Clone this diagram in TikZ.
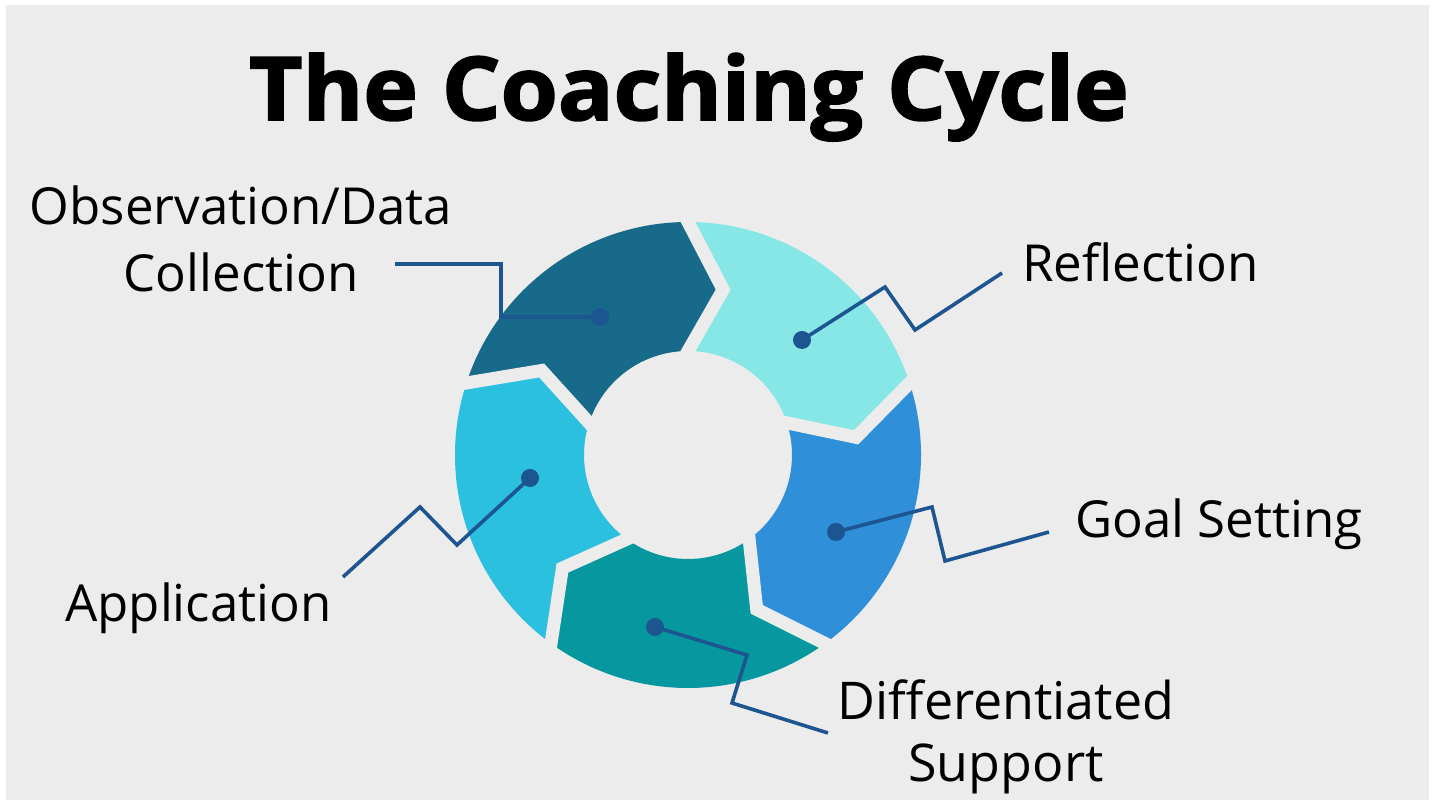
\documentclass[tikz,border=0pt]{standalone}
\usepackage{fontspec}
\usepackage{graphicx}
\setmainfont{Open Sans}
\usetikzlibrary{calc}
\definecolor{bg}{HTML}{ECECEC}
\definecolor{segObs}{HTML}{176A8A}
\definecolor{segRef}{HTML}{87E7E7}
\definecolor{segGoal}{HTML}{2F8FD8}
\definecolor{segDiff}{HTML}{06989E}
\definecolor{segApp}{HTML}{2BC0E0}
\definecolor{leadc}{HTML}{1D5591}
\tikzset{
  lead/.style={draw=leadc, line width=3.6pt, line join=miter},
  dot/.style={circle, fill=leadc, inner sep=0pt, minimum size=18pt},
  lbl/.style={font=\fontsize{51}{64}\selectfont, text=black, inner sep=0pt},
  gapline/.style={draw=bg, line width=13pt, line join=miter}
}
\begin{document}
\begin{tikzpicture}[x=1pt,y=1pt]
\useasboundingbox (0,0) rectangle (1435,805);
\fill[white] (0,0) rectangle (1435,805);
\fill[bg] (6,5) rectangle (1429,800);
% ring
\begin{scope}[shift={(688,350)}]
  \def\RO{233}\def\RI{104}\def\RM{169}\def\DT{12}
  \foreach \a/\c in {162/segObs, 90/segRef, 18/segGoal, -54/segDiff, -126/segApp}{
    \pgfmathsetmacro\b{\a-72}
    \fill[\c] (\a:\RO) arc[start angle=\a, end angle=\b, radius=\RO]
      -- (\b-\DT:\RM) -- (\b:\RI)
      arc[start angle=\b, end angle=\a, radius=\RI]
      -- (\a-\DT:\RM) -- cycle;
  }
  \foreach \a in {162,90,18,-54,-126}{
    \draw[gapline] ($(\a-\DT:\RM)!1.25!(\a:\RO)$) -- (\a-\DT:\RM) -- ($(\a-\DT:\RM)!1.25!(\a:\RI)$);
  }
\end{scope}
% title
\node[font=\fontsize{88}{100}\selectfont\bfseries\addfontfeatures{FakeBold=2}, anchor=base, inner sep=0pt] (title) at (689,685) {\scalebox{1.05}[1]{The Coaching Cycle}};
% labels
\node[lbl, font=\fontsize{51}{67}\selectfont, align=center, anchor=base] (tObs) at (241,513) {Observation/Data\\Collection};
\node[lbl, anchor=base west] (tRef) at (1022,523) {Reflection};
\node[lbl, anchor=base west] (tGoal) at (1075,267) {Goal Setting};
\node[lbl, align=center, font=\fontsize{52}{62}\selectfont, anchor=base] (tDiff) at (1006,23) {Differentiated\\Support};
\node[lbl, anchor=base west] (tApp) at (65,183) {Application};
% dots
\node[dot] (dObs) at (600,488) {};
\node[dot] (dRef) at (802,465) {};
\node[dot] (dGoal) at (836,273) {};
\node[dot] (dDiff) at (655,178) {};
\node[dot] (dApp) at (530,327) {};
% free ends
\coordinate (eObs) at (395,541);
\coordinate (eRef) at (1002,532);
\coordinate (eGoal) at (1049,273);
\coordinate (eDiff) at (828,72);
\coordinate (eApp) at (343,228);
% leaders
\draw[lead] (eObs) -- (501,541) -- (501,488) -- (dObs.center);
\draw[lead] (eRef) -- (915,475) -- (885,518) -- (dRef.center);
\draw[lead] (eGoal) -- (945,244) -- (932,298) -- (dGoal.center);
\draw[lead] (eDiff) -- (732,102) -- (747,150) -- (dDiff.center);
\draw[lead] (eApp) -- (420,298) -- (457,260) -- (dApp.center);
\end{tikzpicture}
\end{document}
